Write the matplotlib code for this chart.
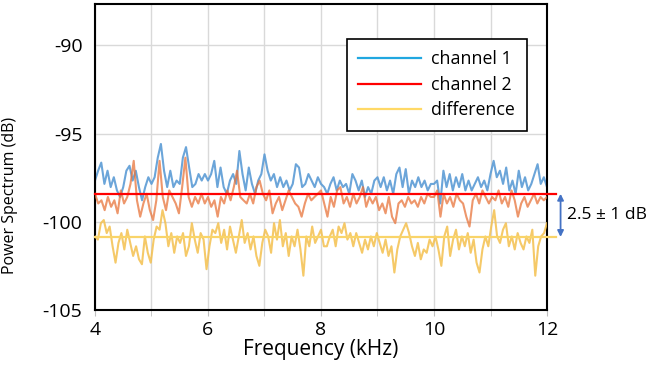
import numpy as np
import matplotlib
matplotlib.use("Agg")
import matplotlib.pyplot as plt
from matplotlib.lines import Line2D

plt.rcParams["font.family"] = ["Open Sans", "DejaVu Sans"]
plt.rcParams["axes.unicode_minus"] = False

# Power spectrum traces (dB), evenly spaced over 4-12 kHz
ch1_db = [
    -97.67, -97.11, -96.65, -97.86, -97.11, -98.04, -97.48, -98.23, -98.60, -98.04,
    -97.11, -96.83, -97.67, -97.11, -98.04, -98.79, -98.04, -97.48, -97.86, -97.48,
    -96.37, -95.59, -97.11, -98.04, -97.11, -98.04, -97.67, -97.86, -96.37, -95.77,
    -96.93, -98.04, -97.86, -97.30, -97.67, -97.30,
    -97.67, -97.30, -96.55, -98.04, -96.93, -98.04, -98.42, -97.67, -97.30, -97.86,
    -95.99, -97.30, -98.23, -96.93, -97.86, -98.42, -97.67, -97.30, -96.18, -97.11,
    -97.67, -97.30, -98.04, -97.48, -98.04, -97.67, -98.23, -97.86, -96.74, -96.93,
    -98.04, -97.86, -97.30, -97.67, -98.04, -97.48, -97.86,
    -98.04, -98.42, -97.86, -97.48, -98.23, -97.67, -98.04, -97.86, -98.42, -97.30,
    -97.67, -98.23, -97.67, -98.60, -98.04, -98.42, -97.67, -97.48, -98.04, -97.48,
    -98.23, -97.67, -98.42, -97.30, -96.93, -98.04, -97.02, -98.42, -97.67, -98.04,
    -97.48, -98.04, -97.67, -98.23, -97.86,
    -97.86, -97.67, -98.97, -97.11, -98.04, -97.30, -98.23, -97.48, -98.04, -97.30,
    -98.23, -97.67, -98.23, -97.86, -97.48, -98.04, -97.67, -98.23, -97.30, -96.55,
    -97.48, -97.11, -97.86, -96.93, -98.23, -97.67, -98.42, -97.11, -98.04, -97.48,
    -98.23, -97.86, -97.30, -96.74, -97.86, -97.48, -98.04,
]
ch2_db = [
    -98.42, -98.97, -98.79, -99.35, -98.60, -99.16, -98.79, -99.53, -98.23, -98.97,
    -98.60, -97.86, -96.55, -98.79, -99.72, -98.97, -98.42, -99.35, -99.91, -98.79,
    -96.55, -98.60, -99.35, -98.23, -98.60, -98.97, -99.53, -98.04, -96.37, -98.60,
    -99.16, -98.60, -98.97, -98.42, -98.97,
    -98.60, -99.16, -98.79, -99.72, -98.60, -98.97, -98.23, -98.79, -98.04, -97.11,
    -98.60, -98.79, -98.97, -98.42, -98.97, -98.04, -97.67, -98.42, -98.79, -98.23,
    -99.53, -98.97, -98.60, -99.35, -98.79, -98.23, -98.60, -98.97, -99.16, -99.72,
    -98.97, -98.42, -98.79, -98.60, -98.42,
    -98.23, -98.97, -99.72, -98.60, -99.16, -98.23, -98.04, -98.97, -98.60, -99.16,
    -98.42, -98.97, -98.60, -98.04, -99.16, -98.60, -98.97, -98.60, -99.35, -98.97,
    -99.53, -98.60, -99.72, -100.09, -98.97, -98.79, -99.16, -98.60, -98.97, -98.79,
    -99.16, -98.60, -98.97, -98.42, -98.60,
    -98.60, -98.23, -99.72, -98.42, -98.97, -98.60, -99.16, -98.42, -98.79, -98.97,
    -99.72, -100.28, -98.79, -98.42, -98.97, -98.23, -98.60, -98.97, -98.60, -98.79,
    -98.23, -98.97, -98.60, -99.16, -98.23, -98.79, -99.72, -98.97, -98.60, -99.16,
    -98.79, -98.42, -98.97, -98.60, -98.79, -98.60,
]
diff_db = [
    -100.84, -101.02, -100.09, -99.91, -100.65, -100.28, -101.40, -102.33, -101.21, -100.65,
    -101.58, -100.46, -101.21, -101.95, -101.40, -102.14, -102.42, -100.84, -101.77, -102.33,
    -101.02, -100.28, -100.46, -99.35, -100.09, -101.40, -100.65, -101.77, -100.84, -101.21,
    -100.65, -101.95, -101.40, -100.09, -101.02, -101.77, -100.65, -101.02, -102.70, -101.40,
    -100.46,
    -100.65, -100.09, -101.21, -100.46, -101.58, -100.28, -101.02, -101.77, -100.84, -99.91,
    -101.21, -100.65, -101.58, -100.84, -101.95, -102.51, -101.21, -100.46, -100.84, -101.77,
    -100.09, -101.02, -99.91, -101.40, -100.65, -101.95, -100.84, -101.40, -100.46, -101.58,
    -103.07, -100.84, -101.40, -100.28, -101.21, -100.84, -100.46, -101.40,
    -101.40, -100.84, -100.46, -101.40, -100.28, -100.65, -100.09, -101.02, -100.65, -101.40,
    -100.65, -101.21, -101.77, -101.02, -101.58, -100.84, -101.40, -100.65, -101.21, -101.77,
    -101.02, -101.95, -101.40, -102.89, -101.58, -100.84, -100.46, -100.09, -100.65, -101.40,
    -101.95, -101.21, -102.14, -101.58, -101.77, -101.02, -101.40,
    -100.84, -101.58, -102.51, -100.84, -100.28, -101.95, -101.02, -100.46, -101.58, -100.84,
    -101.40, -100.65, -101.77, -101.02, -102.33, -102.89, -101.58, -100.84, -101.40, -100.28,
    -99.35, -100.84, -101.21, -100.46, -100.09, -101.40, -100.84, -101.58, -100.65, -101.21,
    -101.58, -100.84, -101.21, -100.46, -103.07, -101.40, -100.84, -100.65, -100.09,
]

ch2_mean = -98.42
diff_mean = -100.87
offset_label = "2.5 \u00b1 1 dB"

f_start, f_stop = 4.0, 12.0

fig = plt.figure(figsize=(6.67, 3.70), dpi=100)
ax = fig.add_axes([0.1424, 0.163, 0.6777, 0.826])

f1 = np.linspace(f_start, f_stop, len(ch1_db))
f2 = np.linspace(f_start, f_stop, len(ch2_db))
f3 = np.linspace(f_start, f_stop, len(diff_db))

ax.plot(f1, ch1_db, color="#5B9BD5", lw=1.5, alpha=0.9, zorder=2)
ax.plot(f2, ch2_db, color="#E8743B", lw=1.5, alpha=0.75, zorder=3)
ax.plot(f3, diff_db, color="#F4C04E", lw=1.5, alpha=0.85, zorder=3)

# mean levels, drawn a bit past the right frame like in the original
ax.plot([f_start, 12.16], [ch2_mean, ch2_mean], color="#FF0000", lw=1.6,
        clip_on=False, zorder=5)
ax.plot([f_start, 12.16], [diff_mean, diff_mean], color="#F9D469", lw=1.6,
        clip_on=False, zorder=4)

ax.annotate("", xy=(12.24, ch2_mean), xytext=(12.24, diff_mean),
            arrowprops=dict(arrowstyle="<|-|>", color="#4472C4", lw=1.3,
                            mutation_scale=9, shrinkA=0, shrinkB=0),
            annotation_clip=False)
ax.text(12.35, (ch2_mean + diff_mean) / 2, offset_label, fontsize=12.5,
        ha="left", va="center")

ax.set_xlim(f_start, f_stop)
ax.set_ylim(-105, -87.65)
ax.set_xticks([4, 6, 8, 10, 12])
ax.set_xticks([5, 7, 9, 11], minor=True)
ax.set_yticks([-105, -100, -95, -90])
ax.grid(True, which="both", axis="x", color="#D9D9D9", lw=1.0, zorder=0)
ax.grid(True, which="major", axis="y", color="#D9D9D9", lw=1.0, zorder=0)
ax.set_axisbelow(True)

ax.tick_params(axis="x", which="both", length=4, color="#BFBFBF", labelsize=14, pad=4)
ax.tick_params(axis="y", length=0, labelsize=14, pad=9)

for s in ax.spines.values():
    s.set_linewidth(1.5)
    s.set_color("black")

ax.set_xlabel("Frequency (kHz)", fontsize=15, labelpad=0)
ax.set_ylabel("Power Spectrum (dB)", fontsize=11.5)
ax.yaxis.set_label_coords(-0.17, 0.375)

handles = [
    Line2D([], [], color="#21A7E0", lw=1.6),
    Line2D([], [], color="#FF0000", lw=1.6),
    Line2D([], [], color="#FFD966", lw=1.6),
]
leg = ax.legend(handles, ["channel 1", "channel 2", "difference"],
                loc="upper left", bbox_to_anchor=(0.557, 0.886),
                fontsize=12.8, frameon=True, fancybox=False, edgecolor="black",
                framealpha=1, handlelength=3.5, handletextpad=0.6,
                labelspacing=0.42, borderpad=0.65, borderaxespad=0)
leg.get_frame().set_linewidth(1.2)

fig.savefig("out.png", dpi=100)
